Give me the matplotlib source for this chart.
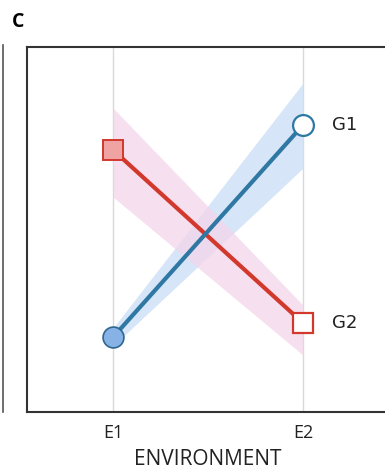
import matplotlib
matplotlib.use("Agg")
import matplotlib.pyplot as plt
from matplotlib.lines import Line2D

# dados (unidades arbitrarias)
env = [1, 2]
env_labels = ["E1", "E2"]
g1 = [2.05, 7.86]
g1_lo = [1.81, 6.68]
g1_hi = [2.30, 9.01]
g2 = [7.18, 2.44]
g2_lo = [5.89, 1.56]
g2_hi = [8.33, 2.93]

blue = "#2f78a3"
red = "#d2382c"

fig = plt.figure(figsize=(3.85, 4.72), dpi=100)
ax = fig.add_axes([27/385, 60/472, 362/385, 365/472])

ax.fill_between(env, g1_lo, g1_hi, color="#cfe1f6", alpha=0.85, lw=0, zorder=1)
ax.fill_between(env, g2_lo, g2_hi, color="#f4d6ec", alpha=0.75, lw=0, zorder=1)

for x in env:
    ax.axvline(x, color="#d9d9d9", lw=1, zorder=0)

ax.plot(env, g2, color=red, lw=3, zorder=2)
ax.plot(env, g1, color=blue, lw=3, zorder=2)

# marcadores
ax.plot(env[0], g1[0], "o", ms=15, mfc="#86b2e6", mec="#2f6790", mew=1.2, zorder=3)
ax.plot(env[1], g1[1], "o", ms=15, mfc="white", mec=blue, mew=1.6, zorder=3)
ax.plot(env[0], g2[0], "s", ms=14, mfc="#f0a3a3", mec=red, mew=1.4, zorder=3)
ax.plot(env[1], g2[1], "s", ms=14, mfc="white", mec=red, mew=1.6, zorder=3)

ax.text(2.155, g1[1], "G1", fontsize=13, color="#222222", va="center", family="DejaVu Sans")
ax.text(2.155, g2[1], "G2", fontsize=13, color="#222222", va="center", family="DejaVu Sans")

ax.set_xlim(0.547, 2.453)
ax.set_ylim(0, 10)
ax.set_yticks([])
ax.set_xticks(env)
ax.set_xticklabels(env_labels, fontsize=13, family="Open Sans", color="#222222")
ax.tick_params(axis="x", length=0, pad=9)
ax.set_xlabel("ENVIRONMENT", fontsize=15, family="Open Sans", color="#222222", labelpad=5)
for s in ax.spines.values():
    s.set_linewidth(1.5)
    s.set_color("#333333")

fig.text(12/385, 1 - 22/472, "C", fontsize=14, fontweight="bold", va="center", family="Open Sans")
fig.add_artist(Line2D([2.5/385, 2.5/385], [1 - 45/472, 1 - 412/472], color="#555555", lw=1.2))

fig.savefig("out.png", dpi=100)
